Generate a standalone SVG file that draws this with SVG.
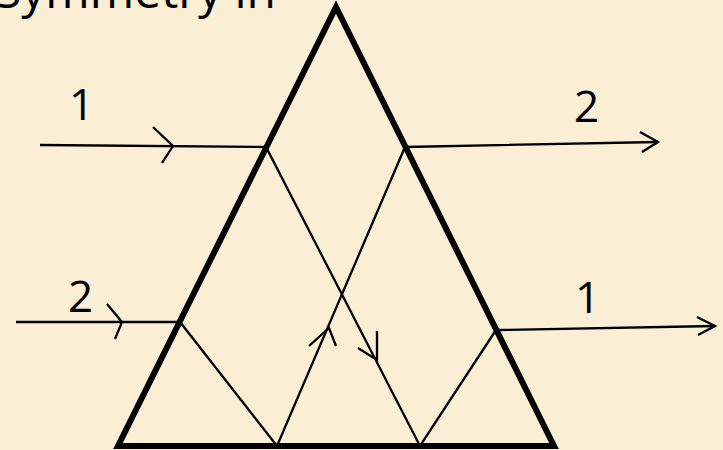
<svg xmlns="http://www.w3.org/2000/svg" width="723" height="450" viewBox="0 0 723 450">
  <style>
    .prism { fill: none; stroke: #000; stroke-width: 6; stroke-linejoin: miter; }
    .ray { fill: none; stroke: #000; stroke-width: 2.3; stroke-linecap: butt; stroke-linejoin: miter; }
    .lbl { font-family: "Open Sans", "Liberation Sans", sans-serif; font-size: 44px; fill: #000; }
  </style>
  <rect x="0" y="0" width="723" height="450" fill="#FAEED4"/>
  <text x="276" y="8" class="lbl" text-anchor="end" style="font-size:48px">Symmetry in</text>

  <g id="prism">
    <polygon class="prism" points="336,7 554,446 118,446"/>
  </g>

  <g id="connectors">
    <g id="ray1">
      <polyline class="ray" points="40,145 266,147 420,446 496,330 715,326"/>
      <polyline class="ray" points="153,127 173,146 162,163"/>
      <polyline class="ray" points="377,331 377,360 358,348"/>
      <polyline class="ray" points="697,317 715,326 698,335"/>
    </g>
    <g id="ray2">
      <polyline class="ray" points="16,322 180,322 277,446 405,147 658,142"/>
      <polyline class="ray" points="107,304 122,322 115,339"/>
      <polyline class="ray" points="309,346 329,328 336,346"/>
      <polyline class="ray" points="640,132 658,142 642,152"/>
    </g>
  </g>

  <g id="labels">
    <text class="lbl" x="69" y="120">1</text>
    <text class="lbl" x="68" y="312">2</text>
    <text class="lbl" x="574" y="122">2</text>
    <text class="lbl" x="575" y="313">1</text>
  </g>
</svg>
